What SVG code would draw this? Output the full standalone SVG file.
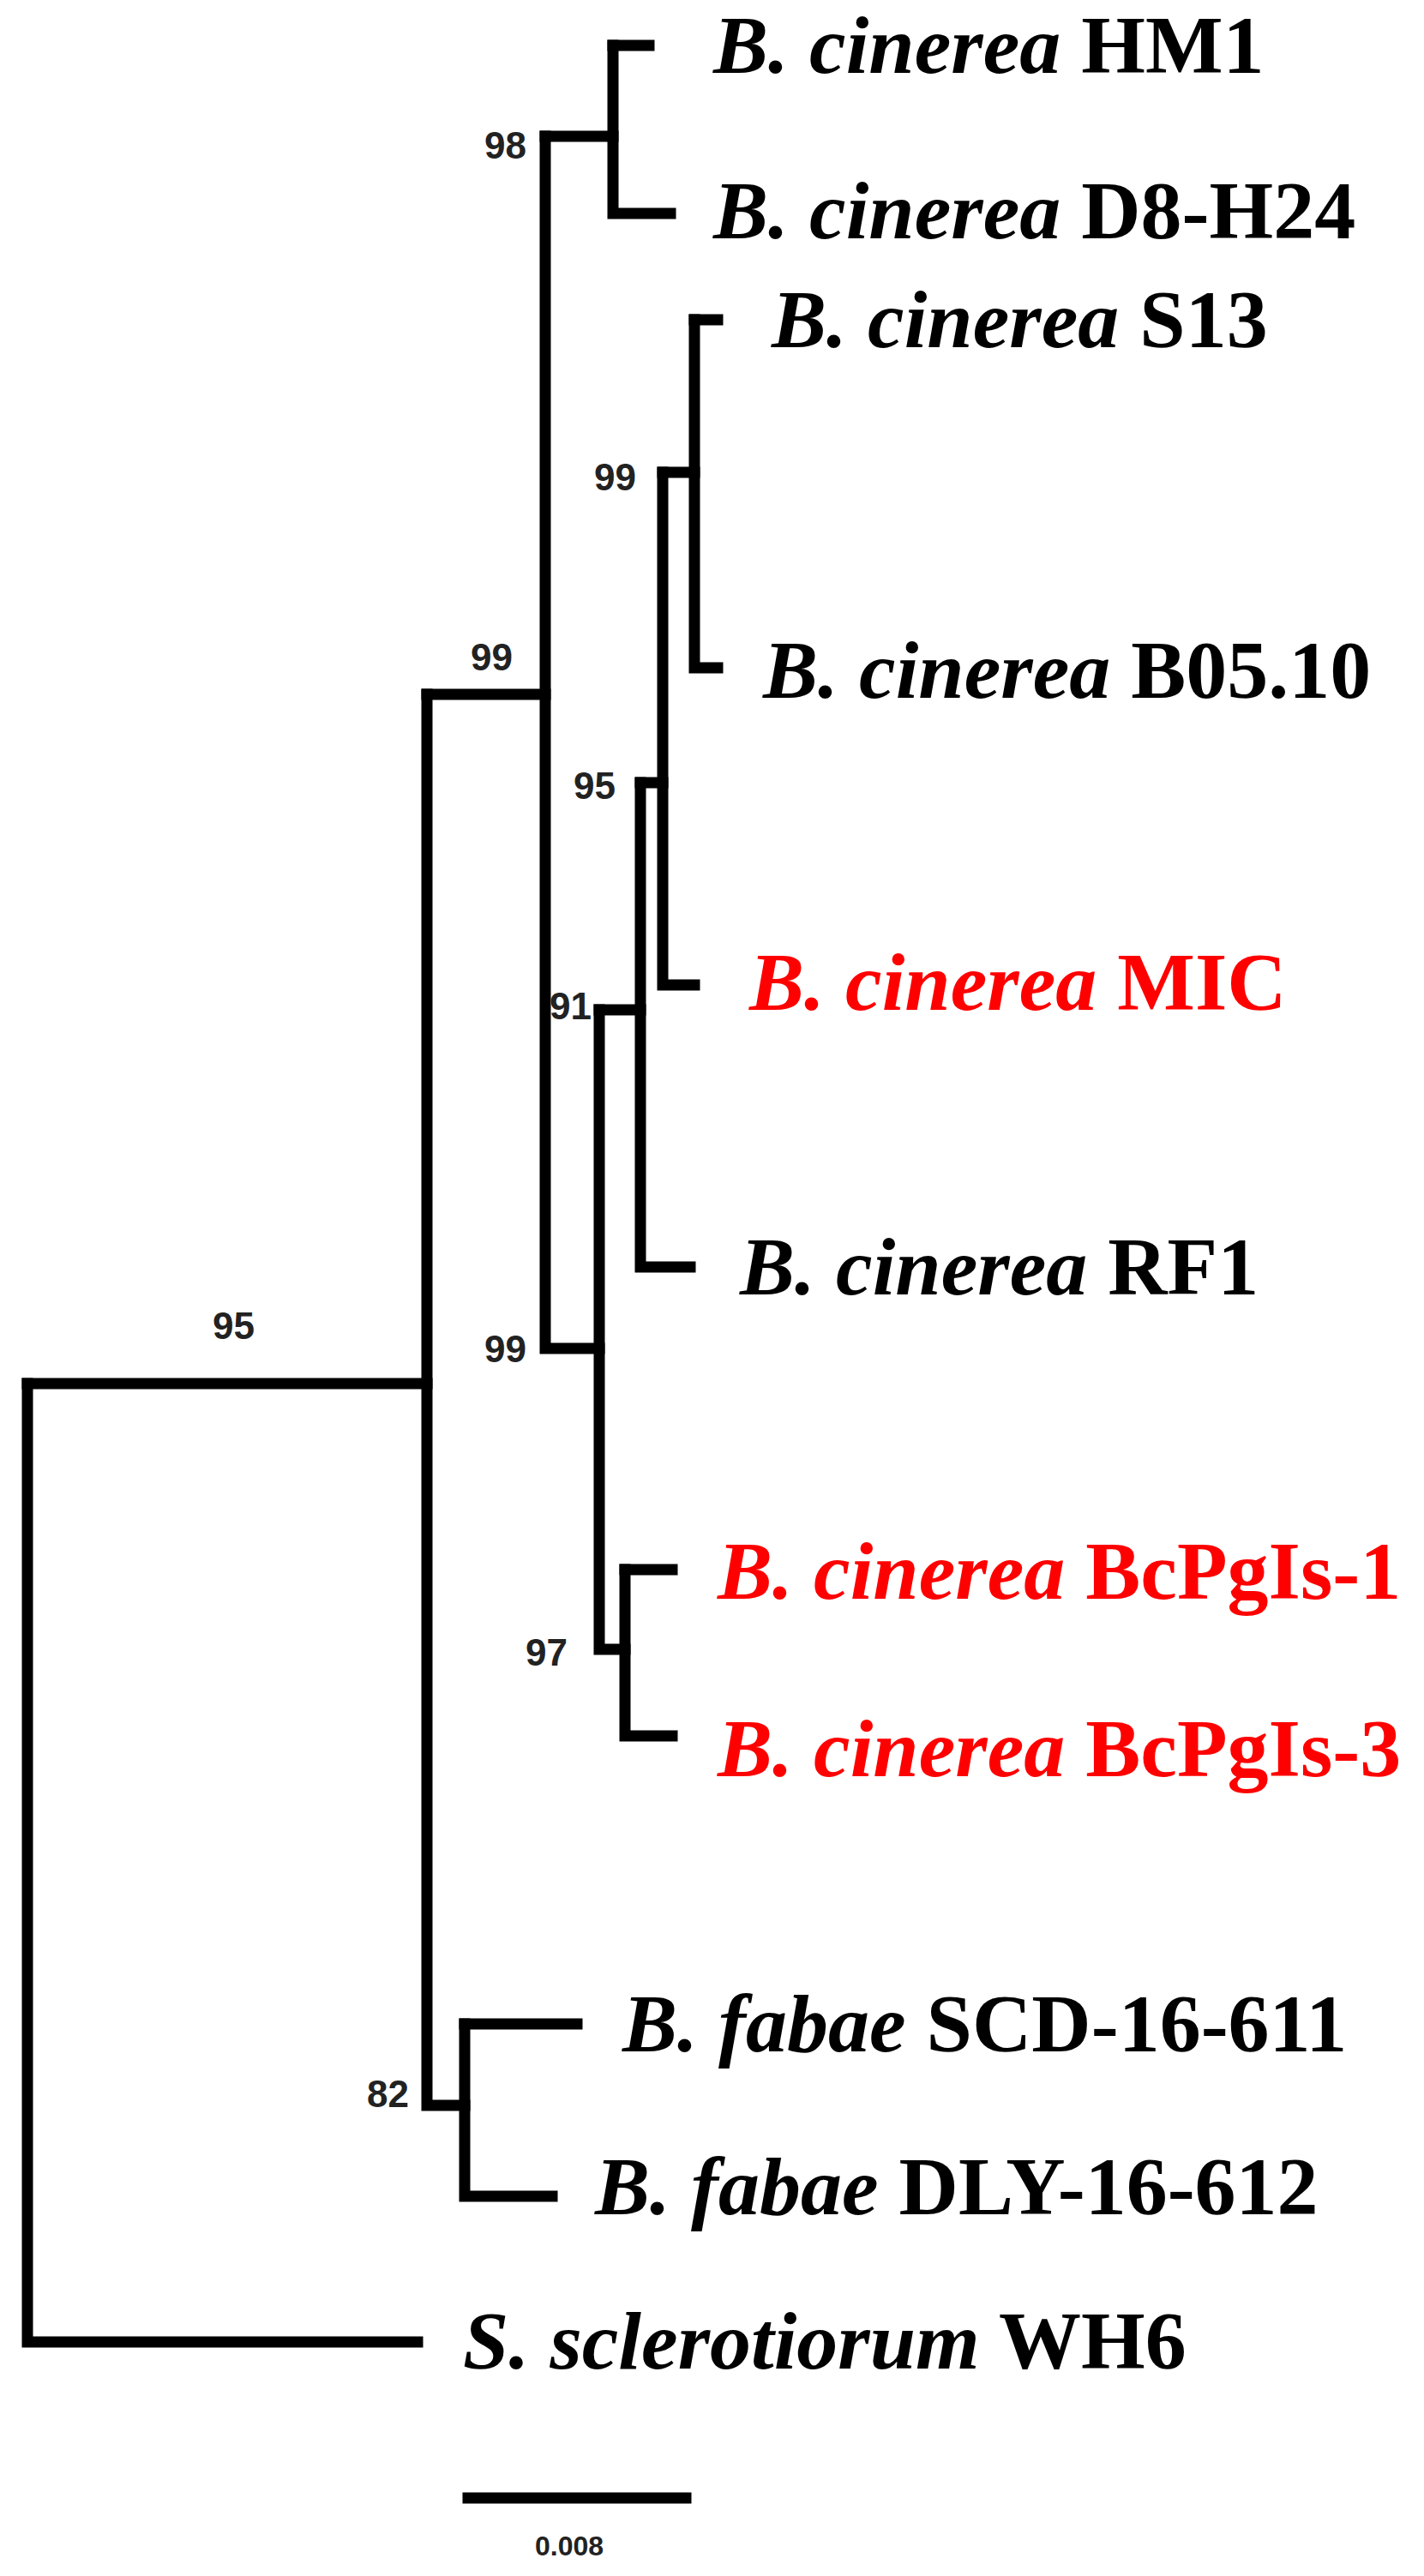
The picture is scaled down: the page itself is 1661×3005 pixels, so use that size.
<svg xmlns="http://www.w3.org/2000/svg" width="1661" height="3005" viewBox="0 0 1661 3005">
<style>
.br{fill:none;stroke:#000;stroke-width:13;stroke-linecap:square;stroke-linejoin:miter}
.lb{font-family:"Liberation Serif",serif;font-size:96px;font-weight:bold;fill:#000}
.red{fill:#f00}
.bs{font-family:"Liberation Sans",sans-serif;font-size:44px;font-weight:bold;fill:#222;text-anchor:end}
</style>
<rect width="1661" height="3005" fill="#fff"/>
<g id="connectors" class="br">
<path d="M32 1614 V2732 H487"/>
<path d="M32 1614 H498"/>
<path d="M498 810 V2456 H542"/>
<path d="M498 810 H636"/>
<path d="M636 159 V1573 H699"/>
<path d="M636 159 H715"/>
<path d="M715 53 V249 H782"/>
<path d="M715 53 H757"/>
<path d="M699 1178 V1924 H729"/>
<path d="M699 1178 H747"/>
<path d="M747 913 V1478 H805"/>
<path d="M747 913 H773"/>
<path d="M773 551 V1149 H810"/>
<path d="M773 551 H810"/>
<path d="M810 373 V779 H837"/>
<path d="M810 373 H837"/>
<path d="M729 1831 V2025 H784"/>
<path d="M729 1831 H784"/>
<path d="M542 2361 V2562 H644"/>
<path d="M542 2361 H673"/>
<path d="M546 2914 H800"/>
</g>
<g id="bootstrap">
<text class="bs" x="614" y="185">98</text>
<text class="bs" x="742" y="572">99</text>
<text class="bs" x="598" y="782">99</text>
<text class="bs" x="718" y="932">95</text>
<text class="bs" x="690" y="1189">91</text>
<text class="bs" x="614" y="1589">99</text>
<text class="bs" x="297" y="1562">95</text>
<text class="bs" x="662" y="1943">97</text>
<text class="bs" x="477" y="2458">82</text>
</g>
<g id="n-hm1"><text class="lb" x="832" y="85"><tspan font-style="italic">B. cinerea</tspan> HM1</text></g>
<g id="n-d8"><text class="lb" x="832" y="278"><tspan font-style="italic">B. cinerea</tspan> D8-H24</text></g>
<g id="n-s13"><text class="lb" x="900" y="405"><tspan font-style="italic">B. cinerea</tspan> S13</text></g>
<g id="n-b05"><text class="lb" x="890" y="814"><tspan font-style="italic">B. cinerea</tspan> B05.10</text></g>
<g id="n-mic"><text class="lb red" x="874" y="1178"><tspan font-style="italic">B. cinerea</tspan> MIC</text></g>
<g id="n-rf1"><text class="lb" x="863" y="1510"><tspan font-style="italic">B. cinerea</tspan> RF1</text></g>
<g id="n-bc1"><text class="lb red" x="837" y="1865"><tspan font-style="italic">B. cinerea</tspan> BcPgIs-1</text></g>
<g id="n-bc3"><text class="lb red" x="837" y="2072"><tspan font-style="italic">B. cinerea</tspan> BcPgIs-3</text></g>
<g id="n-scd"><text class="lb" x="726" y="2393"><tspan font-style="italic">B. fabae</tspan> SCD-16-611</text></g>
<g id="n-dly"><text class="lb" x="694" y="2583"><tspan font-style="italic">B. fabae</tspan> DLY-16-612</text></g>
<g id="n-wh6"><text class="lb" x="540" y="2763"><tspan font-style="italic">S. sclerotiorum</tspan> WH6</text></g>
<g id="scale"><text x="664" y="2981" font-family="Liberation Sans,sans-serif" font-size="32" font-weight="bold" fill="#222" text-anchor="middle">0.008</text></g>
</svg>
